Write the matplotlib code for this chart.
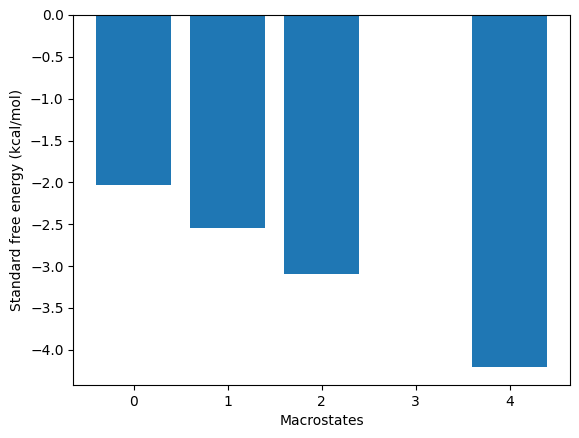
import matplotlib
matplotlib.use("Agg")
import matplotlib.pyplot as plt

macrostates = [0, 1, 2, 3, 4]
free_energy = [-2.03, -2.54, -3.10, 0.0, -4.21]

fig, ax = plt.subplots(figsize=(5.79, 4.38), dpi=100)
fig.subplots_adjust(left=0.1266, right=0.9845, top=0.9658, bottom=0.121)

ax.bar(macrostates, free_energy, color='#1f77b4')
ax.set_xlabel("Macrostates")
ax.set_ylabel("Standard free energy (kcal/mol)")
ax.set_xticks(macrostates)

plt.savefig("out.png", dpi=100)
